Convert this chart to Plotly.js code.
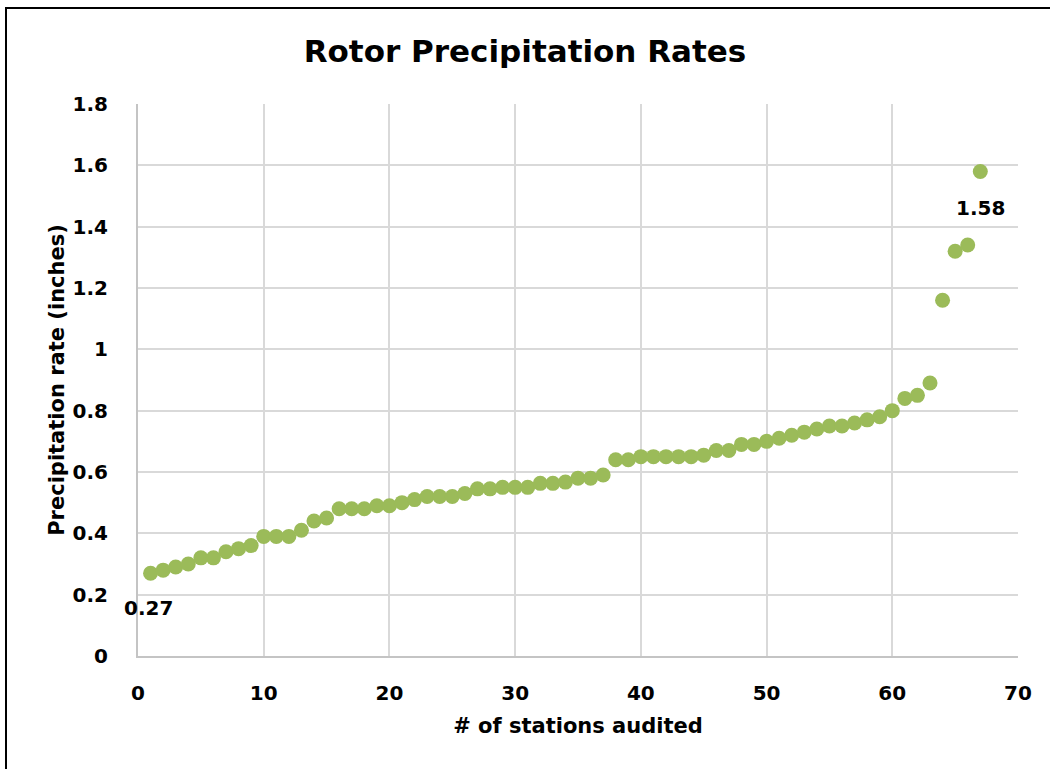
<!DOCTYPE html>
<html>
<head>
<meta charset="utf-8">
<script src="https://cdn.plot.ly/plotly-3.0.1.min.js"></script>
<style>
  html, body { margin: 0; padding: 0; background: #fff; }
  #chart { width: 1050px; height: 769px; }
  #frame { position: absolute; left: 5px; top: 7px; width: 1045px; height: 762px;
           border-left: 2px solid #000; border-top: 2px solid #000; pointer-events: none; box-sizing: border-box; }
</style>
</head>
<body>
<div id="chart"></div>
<div id="frame"></div>
<script>
// Station index (# of stations audited)
const stations = [];
for (let i = 1; i <= 67; i++) stations.push(i);

// Precipitation rate (inches)
const rates = [
  0.27, 0.28, 0.29, 0.30, 0.32, 0.32, 0.34, 0.35, 0.36, 0.39,
  0.39, 0.39, 0.41, 0.44, 0.45, 0.48, 0.48, 0.48, 0.49, 0.49,
  0.50, 0.51, 0.52, 0.52, 0.52, 0.53, 0.545, 0.545, 0.55, 0.55,
  0.55, 0.563, 0.563, 0.567, 0.58, 0.58, 0.59, 0.64, 0.64, 0.65,
  0.65, 0.65, 0.65, 0.65, 0.655, 0.67, 0.67, 0.69, 0.69, 0.70,
  0.71, 0.72, 0.73, 0.74, 0.75, 0.75, 0.76, 0.77, 0.78, 0.80,
  0.84, 0.85, 0.89, 1.16, 1.32, 1.34, 1.58
];

const chartTitle = "Rotor Precipitation Rates";
const xTitle = "# of stations audited";
const yTitle = "Precipitation rate (inches)";

const FONT = "DejaVu Sans, Liberation Sans, Arial, sans-serif";
const first = 0, last = rates.length - 1;

const trace = {
  x: stations,
  y: rates,
  type: "scatter",
  mode: "markers",
  marker: { color: "#9BBB59", size: 15, line: { width: 0 } },
  hoverinfo: "x+y"
};

const layout = {
  width: 1050,
  height: 769,
  paper_bgcolor: "#ffffff",
  plot_bgcolor: "#ffffff",
  margin: { l: 138, r: 32, t: 104, b: 113 },
  showlegend: false,
  font: { family: FONT, color: "#000", size: 20, weight: "bold" },
  title: {
    text: "<b>" + chartTitle + "</b>",
    font: { family: FONT, size: 31, color: "#000" },
    x: 0.5, xanchor: "center",
    y: 1 - 51 / 769, yanchor: "middle"
  },
  xaxis: {
    range: [0, 70],
    dtick: 10,
    tick0: 0,
    showgrid: true,
    gridcolor: "#d9d9d9",
    gridwidth: 2,
    showline: true,
    linecolor: "#c4c4c4",
    linewidth: 2,
    zeroline: false,
    ticks: "",
    ticklabelstandoff: 18,
    tickfont: { family: FONT, size: 20, color: "#000", weight: "bold" },
    title: {
      text: "<b>" + xTitle + "</b>",
      font: { family: FONT, size: 21, color: "#000" },
      standoff: 14
    },
    fixedrange: true
  },
  yaxis: {
    range: [0, 1.8],
    dtick: 0.2,
    tick0: 0,
    showgrid: true,
    gridcolor: "#d9d9d9",
    gridwidth: 2,
    showline: true,
    linecolor: "#c4c4c4",
    linewidth: 2,
    zeroline: false,
    ticks: "",
    ticklabelstandoff: 24,
    tickfont: { family: FONT, size: 20, color: "#000", weight: "bold" },
    title: {
      text: "<b>" + yTitle + "</b>",
      font: { family: FONT, size: 21, color: "#000" },
      standoff: 2
    },
    fixedrange: true
  },
  annotations: [
    {
      x: stations[first], y: rates[first], xref: "x", yref: "y",
      text: "<b>" + rates[first].toFixed(2) + "</b>",
      showarrow: false, xanchor: "center", yanchor: "middle",
      xshift: -2, yshift: -35,
      font: { family: FONT, size: 20, color: "#000" }
    },
    {
      x: stations[last], y: rates[last], xref: "x", yref: "y",
      text: "<b>" + rates[last].toFixed(2) + "</b>",
      showarrow: false, xanchor: "center", yanchor: "middle",
      xshift: 0, yshift: -37,
      font: { family: FONT, size: 20, color: "#000" }
    }
  ]
};

Plotly.newPlot("chart", [trace], layout, { displayModeBar: false, staticPlot: true });
</script>
</body>
</html>
